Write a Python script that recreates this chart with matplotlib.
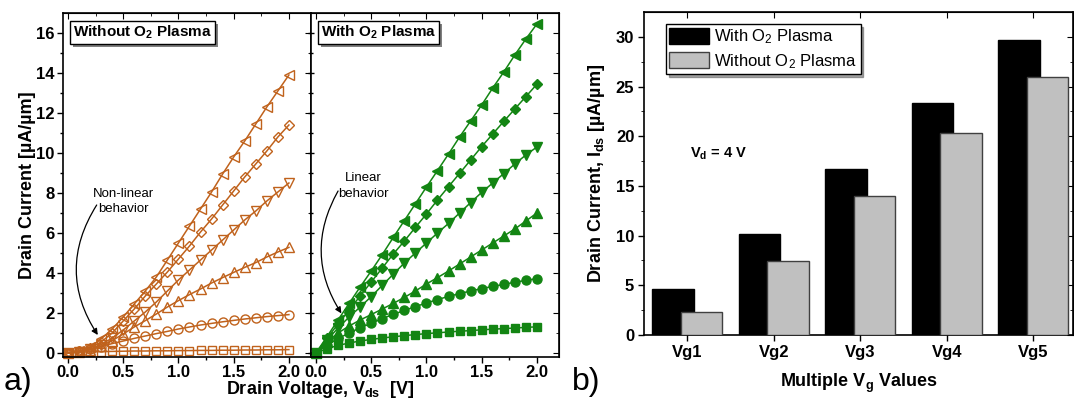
import matplotlib
matplotlib.use('Agg')
import matplotlib.pyplot as plt
import matplotlib.patheffects as pe
import numpy as np

plt.rcParams['font.family'] = ['Liberation Sans', 'DejaVu Sans']
plt.rcParams['mathtext.fontset'] = 'custom'
plt.rcParams['mathtext.rm'] = 'Liberation Sans'
plt.rcParams['mathtext.bf'] = 'Liberation Sans:bold'
plt.rcParams['mathtext.it'] = 'Liberation Sans:italic'

# drain voltage sweep (V)
vds = [0.0, 0.1, 0.2, 0.3, 0.4, 0.5, 0.6, 0.7, 0.8, 0.9, 1.0,
       1.1, 1.2, 1.3, 1.4, 1.5, 1.6, 1.7, 1.8, 1.9, 2.0]

# without O2 plasma (uA/um), lowest Vg first
wo_sq = [0, 0.04, 0.06, 0.07, 0.08, 0.09, 0.10, 0.10, 0.11, 0.11, 0.12,
         0.12, 0.13, 0.13, 0.14, 0.14, 0.15, 0.15, 0.16, 0.16, 0.17]
wo_ci = [0, 0.08, 0.18, 0.32, 0.47, 0.60, 0.73, 0.85, 0.97, 1.08, 1.20,
         1.30, 1.40, 1.48, 1.56, 1.63, 1.70, 1.76, 1.82, 1.87, 1.92]
wo_up = [0, 0.05, 0.15, 0.35, 0.62, 0.95, 1.30, 1.62, 1.95, 2.30, 2.62,
         2.92, 3.20, 3.50, 3.77, 4.03, 4.28, 4.52, 4.80, 5.05, 5.28]
wo_dn = [0, 0.07, 0.20, 0.42, 0.75, 1.15, 1.60, 2.05, 2.55, 3.10, 3.65,
         4.15, 4.65, 5.15, 5.65, 6.15, 6.65, 7.10, 7.60, 8.05, 8.50]
wo_di = [0, 0.08, 0.25, 0.55, 1.00, 1.60, 2.20, 2.85, 3.45, 4.05, 4.70,
         5.35, 6.05, 6.70, 7.40, 8.10, 8.80, 9.45, 10.10, 10.80, 11.40]
wo_lt = [0, 0.10, 0.30, 0.70, 1.20, 1.80, 2.45, 3.10, 3.80, 4.65, 5.50,
         6.35, 7.20, 8.05, 8.95, 9.80, 10.60, 11.45, 12.30, 13.10, 13.90]

# with O2 plasma (uA/um)
w_sq = [0, 0.22, 0.38, 0.50, 0.60, 0.68, 0.75, 0.81, 0.87, 0.92, 0.97,
        1.01, 1.05, 1.09, 1.12, 1.16, 1.19, 1.22, 1.25, 1.28, 1.31]
w_ci = [0, 0.40, 0.72, 1.00, 1.26, 1.48, 1.72, 1.93, 2.13, 2.32, 2.50,
        2.67, 2.83, 2.97, 3.10, 3.22, 3.33, 3.43, 3.54, 3.63, 3.72]
w_up = [0, 0.55, 1.00, 1.35, 1.65, 1.92, 2.20, 2.48, 2.78, 3.10, 3.45,
        3.77, 4.10, 4.45, 4.80, 5.15, 5.50, 5.85, 6.20, 6.60, 7.00]
w_dn = [0, 0.65, 1.25, 1.80, 2.30, 2.82, 3.38, 3.94, 4.50, 5.00, 5.50,
        6.00, 6.48, 7.00, 7.52, 8.03, 8.50, 8.97, 9.45, 9.90, 10.30]
w_di = [0, 0.75, 1.45, 2.15, 2.85, 3.55, 4.25, 4.95, 5.60, 6.28, 6.95,
        7.65, 8.32, 8.98, 9.65, 10.32, 10.95, 11.58, 12.20, 12.82, 13.44]
w_lt = [0, 0.82, 1.65, 2.48, 3.30, 4.10, 4.92, 5.78, 6.62, 7.46, 8.30,
        9.12, 9.95, 10.80, 11.60, 12.40, 13.25, 14.05, 14.90, 15.70, 16.45]

markers = ['s', 'o', '^', 'v', 'D', '<']
msizes = [5.5, 6.5, 6.5, 6.5, 5.5, 6.5]

# bar chart, Vd = 4 V
vg_labels = ['Vg1', 'Vg2', 'Vg3', 'Vg4', 'Vg5']
bar_with = [4.63, 10.17, 16.7, 23.3, 29.7]
bar_without = [2.35, 7.42, 13.97, 20.3, 26.0]

orange = '#c0621c'
green = '#138513'

fig = plt.figure(figsize=(10.74, 4.01), dpi=100)
W, H = 1074, 401
ax1 = fig.add_axes([63 / W, 1 - 357 / H, 248 / W, 344 / H])
ax2 = fig.add_axes([311 / W, 1 - 357 / H, 248 / W, 344 / H])
ax3 = fig.add_axes([644 / W, 1 - 335 / H, 429 / W, 323 / H])

shadow = [pe.SimplePatchShadow(offset=(2.2, -2.2), shadow_rgbFace='#808080', alpha=1),
          pe.Normal()]


def title_box(ax, s):
    t = ax.text(0.04, 0.968, s, transform=ax.transAxes, fontsize=11,
                fontweight='bold', va='top', ha='left', zorder=6,
                bbox=dict(boxstyle='square,pad=0.18', fc='white', ec='black', lw=1))
    t.get_bbox_patch().set_path_effects(shadow)


def panel_ticks(ax, left_dir='out'):
    ax.set_xlim(-0.045, 2.2)
    ax.set_ylim(-0.2, 17)
    ax.set_xticks([0, 0.5, 1.0, 1.5, 2.0])
    ax.set_xticks(np.arange(0.25, 2.2, 0.5), minor=True)
    ax.set_yticks(np.arange(0, 17, 2))
    ax.set_yticks(np.arange(1, 17, 2), minor=True)
    ax.tick_params(axis='both', which='major', length=4, width=1,
                   labelsize=12, direction='out', pad=2)
    ax.tick_params(axis='both', which='minor', length=2.5, width=1, direction='out')
    ax.tick_params(axis='y', direction=left_dir, which='both')
    ax.xaxis.set_major_formatter(matplotlib.ticker.FormatStrFormatter('%.1f'))
    for lab in ax.get_xticklabels() + ax.get_yticklabels():
        lab.set_fontweight('bold')
    top = ax.secondary_xaxis('top')
    top.set_xticks([0, 0.5, 1.0, 1.5, 2.0])
    top.set_xticks(np.arange(0.25, 2.2, 0.5), minor=True)
    top.tick_params(which='major', direction='in', length=4, labeltop=False)
    top.tick_params(which='minor', direction='in', length=2.5)
    right = ax.secondary_yaxis('right')
    right.set_yticks(np.arange(0, 17, 2))
    right.set_yticks(np.arange(1, 17, 2), minor=True)
    right.tick_params(which='major', direction='in', length=4, labelright=False)
    right.tick_params(which='minor', direction='in', length=2.5)
    for sp in ax.spines.values():
        sp.set_linewidth(1.2)


wo_series = [wo_sq, wo_ci, wo_up, wo_dn, wo_di, wo_lt]
w_series = [w_sq, w_ci, w_up, w_dn, w_di, w_lt]

for ys, m, ms in zip(wo_series, markers, msizes):
    ax1.plot(vds, ys, color=orange, lw=1.1, marker=m, ms=ms, mfc='none',
             mec=orange, mew=1.0, clip_on=False)
for ys, m, ms in zip(w_series, markers, msizes):
    ax2.plot(vds, ys, color=green, lw=1.1, marker=m, ms=ms, mfc=green,
             mec=green, clip_on=False)

panel_ticks(ax1)
panel_ticks(ax2, left_dir='inout')
ax2.set_yticklabels([])

title_box(ax1, r'Without O$_\mathbf{2}$ Plasma')
title_box(ax2, r'With O$_\mathbf{2}$ Plasma')

# curved arrows and their notes
ax1.text(0.5, 7.58, 'Non-linear\nbehavior', fontsize=9.5, ha='center',
         va='center', linespacing=1.4)
ax1.annotate('', xy=(0.27, 0.9), xytext=(0.26, 7.4),
             arrowprops=dict(arrowstyle='-|>', color='black', lw=0.9,
                             mutation_scale=9, shrinkA=0, shrinkB=0,
                             connectionstyle='arc3,rad=0.32'))
ax2.text(0.43, 8.35, 'Linear\nbehavior', fontsize=9.5, ha='center',
         va='center', linespacing=1.4)
ax2.annotate('', xy=(0.23, 1.98), xytext=(0.2, 8.1),
             arrowprops=dict(arrowstyle='-|>', color='black', lw=0.9,
                             mutation_scale=9, shrinkA=0, shrinkB=0,
                             connectionstyle='arc3,rad=0.3'))

fig.text(320 / W, 1 - 389 / H, r'Drain Voltage, V$_\mathbf{ds}$  [V]',
         ha='center', va='center', fontsize=13, fontweight='bold')
fig.text(28 / W, 1 - 185 / H, 'Drain Current [µA/µm]', rotation=90,
         ha='center', va='center', fontsize=13, fontweight='bold')
fig.text(4 / W, 1 - 382 / H, 'a)', fontsize=23, ha='left', va='center')
fig.text(572 / W, 1 - 382 / H, 'b)', fontsize=23, ha='left', va='center')

# bar panel
xpos = np.arange(1, 6)
ax3.bar(xpos - 0.165, bar_with, width=0.48, color='black', edgecolor='black',
        lw=1, label=r'With O$_2$ Plasma', zorder=2)
ax3.bar(xpos + 0.165, bar_without, width=0.48, color='#c0c0c0',
        edgecolor='#404040', lw=1, label=r'Without O$_2$ Plasma', zorder=3)
ax3.set_xlim(0.5, 5.46)
ax3.set_ylim(0, 32.5)
ax3.set_xticks(xpos)
ax3.set_xticklabels(vg_labels)
ax3.set_yticks(np.arange(0, 31, 5))
ax3.set_yticks(np.arange(2.5, 32, 5), minor=True)
ax3.tick_params(axis='both', which='major', length=4, width=1,
                labelsize=12, direction='out', pad=3)
ax3.tick_params(axis='y', which='minor', length=2.5, direction='out')
for lab in ax3.get_xticklabels() + ax3.get_yticklabels():
    lab.set_fontweight('bold')
top3 = ax3.secondary_xaxis('top')
top3.set_xticks(xpos)
top3.tick_params(direction='in', length=4, labeltop=False)
right3 = ax3.secondary_yaxis('right')
right3.set_yticks(np.arange(0, 31, 5))
right3.set_yticks(np.arange(2.5, 32, 5), minor=True)
right3.tick_params(which='major', direction='in', length=4, labelright=False)
right3.tick_params(which='minor', direction='in', length=2.5)
for sp in ax3.spines.values():
    sp.set_linewidth(1.2)

ax3.set_ylabel(r'Drain Current, I$_\mathbf{ds}$ [µA/µm]', fontsize=13,
               fontweight='bold', labelpad=6)
ax3.set_xlabel(r'Multiple V$_\mathbf{g}$ Values', fontsize=13,
               fontweight='bold', labelpad=9)
ax3.text(1.03, 18.2, r'V$_\mathbf{d}$ = 4 V', fontsize=10.5, fontweight='bold',
         ha='left', va='center')

leg = ax3.legend(loc='upper left', bbox_to_anchor=(0.051, 0.962),
                 borderaxespad=0, fontsize=12, frameon=True, fancybox=False,
                 shadow=True, edgecolor='black', handlelength=2.4,
                 handleheight=1.1, handletextpad=0.3, borderpad=0.2,
                 labelspacing=0.35)
leg.get_frame().set_linewidth(1)

fig.savefig('out.png', dpi=100)
